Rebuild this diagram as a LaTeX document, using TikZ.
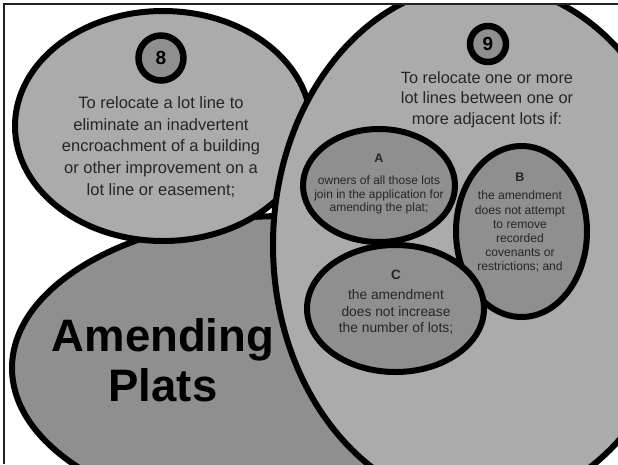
\documentclass[tikz,border=0pt]{standalone}
\usepackage{fontspec}
\setmainfont{Liberation Sans}
\usetikzlibrary{shapes.geometric}
\definecolor{light}{HTML}{ABABAB}
\definecolor{dark}{HTML}{8F8F8F}
\definecolor{txt}{HTML}{262626}
\definecolor{framec}{HTML}{222222}
\tikzset{
  blob/.style={ellipse, draw=black, line width=6pt, inner sep=0pt},
  badge/.style={circle, draw=black, line width=6.5pt, fill=dark, inner sep=0pt},
  lbl/.style={inner sep=0pt, align=center, text=txt},
}
\begin{document}
\begin{tikzpicture}[x=1pt,y=-1pt]
\useasboundingbox (0,0) rectangle (618,464);
\begin{scope}
\clip (4,4.3) rectangle (618,464);
\node[blob, fill=dark, minimum width=546pt, minimum height=304pt] (plats) at (285,368) {};
\node[blob, fill=light, minimum width=296pt, minimum height=230pt] (e8) at (163,126) {};
\node[blob, fill=light, minimum width=416pt, minimum height=522pt] (e9) at (481,245) {};
\node[blob, fill=dark, minimum width=152pt, minimum height=113pt] (ea) at (379,185.5) {};
\node[blob, fill=dark, minimum width=131pt, minimum height=171pt] (eb) at (521.5,231.5) {};
\node[blob, fill=dark, minimum width=177pt, minimum height=127pt] (ec) at (395.5,308.5) {};
\node[badge, minimum size=45pt] (c8) at (161,58) {};
\node[badge, minimum size=36pt] (c9) at (488,44) {};
\end{scope}
\node[inner sep=0pt, font=\fontsize{19}{20}\selectfont\bfseries] (n8) at (c8.center) {8};
\node[inner sep=0pt, font=\fontsize{19}{20}\selectfont\bfseries] (n9) at (c9.center) {9};
\node[lbl, anchor=north, font=\fontsize{16.5}{21.7}\selectfont] (t8) at (161,96.3)
  {To relocate a lot line to\\eliminate an inadvertent\\encroachment of a building\\or other improvement on a\\lot line or easement;};
\node[lbl, anchor=north, font=\fontsize{16.3}{20.5}\selectfont] (t9) at (487,71.1)
  {To relocate one or more\\lot lines between one or\\more adjacent lots if:};
\node[lbl, anchor=north, font=\fontsize{12}{13.5}\selectfont] (ta) at (379,154)
  {{\fontsize{12.5}{13.5}\selectfont\bfseries A}\\[8.5pt]owners of all those lots\\join in the application for\\amending the plat;};
\node[lbl, anchor=north, font=\fontsize{12.1}{14.2}\selectfont] (tb) at (520,173)
  {{\fontsize{12.5}{14.2}\selectfont\bfseries B}\\[3.8pt]the amendment\\does not attempt\\to remove\\recorded\\covenants or\\restrictions; and};
\node[lbl, anchor=north, font=\fontsize{13.8}{16.5}\selectfont] (tc) at (396,270.3)
  {{\fontsize{13.5}{16.5}\selectfont\bfseries C}\\[3.5pt]the amendment\\does not increase\\the number of lots;};
\node[inner sep=0pt, align=center, anchor=north, text=black, font=\fontsize{45.5}{50}\selectfont\bfseries] (tp) at (163,318.8)
  {Amending\\Plats};
\draw[line width=2pt, framec] (4,464) -- (4,4.3) -- (618,4.3);
\end{tikzpicture}
\end{document}
